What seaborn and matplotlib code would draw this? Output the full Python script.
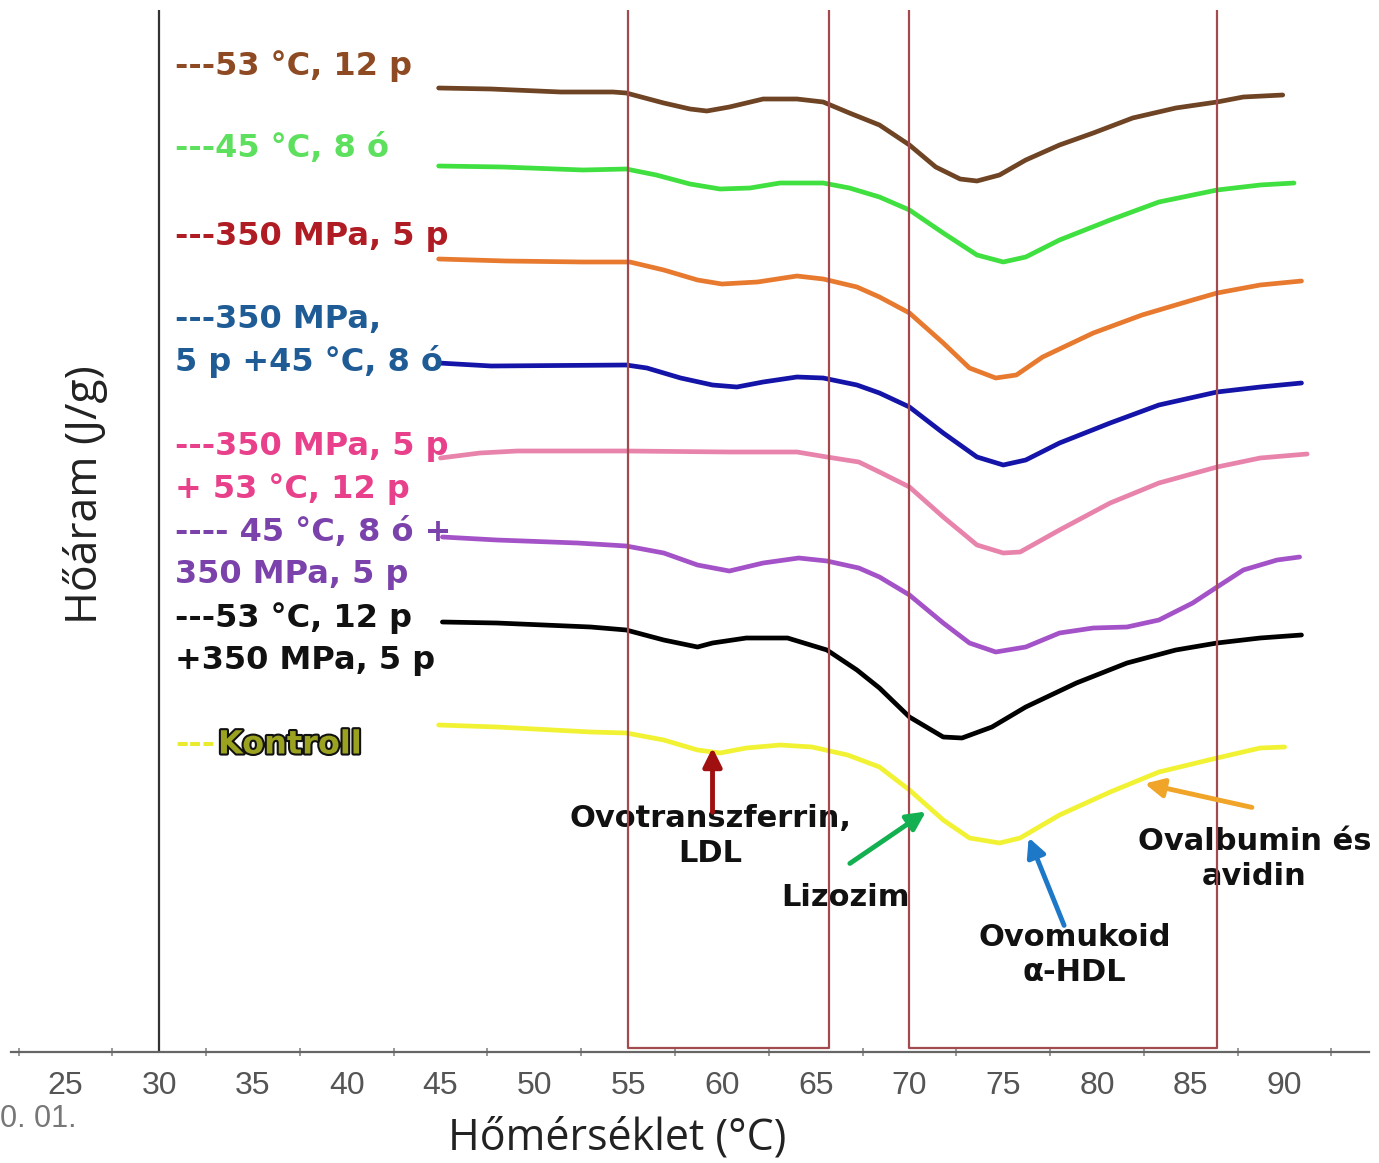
import matplotlib
matplotlib.use('Agg')
import matplotlib.pyplot as plt
import matplotlib.patheffects as pe
import seaborn as sns
import pandas as pd

# DSC curves (temperature in °C, heat flow in arbitrary units)
t_brown = [44.9, 47.7, 51.4, 54.2, 54.9, 56.9, 58.3, 59.2, 60.4, 62.2, 64.0, 65.4, 66.8, 68.4,
           70.0, 71.4, 72.7, 73.6, 74.8, 76.2, 78.0, 79.8, 81.9, 84.2, 86.4, 87.8, 89.9]
f_brown = [964, 963, 960, 960, 959, 949, 943, 941, 945, 953, 953, 950, 939, 927,
           907, 885, 873, 871, 877, 892, 907, 919, 934, 944, 950, 955, 957]

t_green = [44.9, 48.3, 52.6, 54.9, 56.5, 58.3, 59.9, 61.5, 63.1, 65.4, 66.8, 68.4,
           70.0, 71.8, 73.6, 75.0, 76.2, 78.0, 80.7, 83.3, 86.4, 88.7, 90.5]
f_green = [886, 885, 882, 883, 877, 868, 863, 864, 869, 869, 864, 855,
           842, 819, 797, 790, 795, 812, 832, 850, 862, 867, 869]

t_orange = [44.9, 48.5, 52.6, 55.1, 56.9, 58.7, 60.0, 61.9, 64.0, 65.4, 67.2, 68.4,
            70.0, 71.8, 73.2, 74.6, 75.7, 77.1, 79.8, 82.4, 85.1, 86.4, 88.7, 90.9]
f_orange = [793, 791, 790, 790, 782, 772, 768, 770, 776, 773, 765, 755,
            739, 709, 684, 674, 677, 695, 719, 737, 752, 759, 767, 771]

t_blue = [44.9, 47.7, 54.9, 56.0, 57.8, 59.5, 60.8, 62.2, 64.0, 65.4, 67.2, 68.4,
          70.0, 71.8, 73.6, 75.0, 76.2, 78.0, 80.7, 83.3, 86.4, 88.7, 90.9]
f_blue = [689, 686, 687, 684, 674, 667, 665, 670, 675, 674, 667, 659,
          645, 619, 595, 587, 592, 609, 629, 647, 660, 665, 669]

t_pink = [45.0, 47.1, 49.1, 54.9, 60.4, 64.0, 65.6, 67.3, 68.4, 70.0, 71.8, 73.6,
          75.0, 75.9, 78.0, 80.7, 83.3, 86.4, 88.7, 91.2]
f_pink = [594, 599, 601, 601, 600, 600, 595, 590, 580, 565, 535, 507,
          499, 500, 522, 549, 569, 585, 594, 598]

t_purple = [45.1, 48.0, 52.3, 54.9, 56.9, 58.7, 60.4, 62.2, 64.1, 65.6, 67.3, 68.4, 70.0,
            71.8, 73.2, 74.6, 76.2, 78.0, 79.8, 81.6, 83.3, 85.1, 86.4, 87.8, 89.6, 90.8]
f_purple = [515, 512, 509, 506, 499, 487, 481, 489, 494, 491, 484, 475, 457,
            429, 409, 400, 405, 419, 424, 425, 432, 449, 465, 482, 492, 495]

t_black = [45.1, 48.0, 53.0, 54.9, 56.9, 58.7, 59.5, 61.3, 63.5, 65.6, 67.2, 68.4,
           70.0, 71.8, 72.8, 74.4, 76.2, 78.9, 81.6, 84.2, 86.4, 88.7, 90.9]
f_black = [430, 429, 425, 422, 412, 405, 409, 414, 414, 402, 382, 364,
           335, 315, 314, 325, 345, 369, 389, 402, 409, 414, 417]

t_control = [44.9, 48.0, 53.0, 54.9, 56.9, 58.7, 59.9, 61.3, 63.1, 64.8, 66.7, 68.4,
             70.0, 71.8, 73.2, 74.8, 75.9, 78.0, 80.7, 83.3, 86.4, 88.7, 90.0]
f_control = [327, 325, 320, 319, 312, 302, 299, 304, 307, 305, 297, 285,
             262, 232, 214, 209, 214, 237, 260, 280, 294, 304, 305]

curves = [
    (t_brown, f_brown, '#6e4424'),
    (t_green, f_green, '#3fe03f'),
    (t_orange, f_orange, '#e87a30'),
    (t_blue, f_blue, '#1414a8'),
    (t_pink, f_pink, '#e884ac'),
    (t_purple, f_purple, '#a452c8'),
    (t_black, f_black, '#000000'),
    (t_control, f_control, '#f2f234'),
]

# legend-like labels on the left: (lines, colour)
labels = [
    (['---53 °C, 12 p'], '#8e4a22'),
    (['---45 °C, 8 ó'], '#5de05d'),
    (['---350 MPa, 5 p'], '#b01c24'),
    (['---350 MPa,', '5 p +45 °C, 8 ó'], '#1f5c96'),
    (['---350 MPa, 5 p', '+ 53 °C, 12 p'], '#e8408a'),
    (['---- 45 °C, 8 ó +', '350 MPa, 5 p'], '#7a42aa'),
    (['---53 °C, 12 p', '+350 MPa, 5 p'], '#111111'),
]
label_y = [66, 148, 236, 320, 447, 532, 618]

# peak annotations: text, text pos, arrow tail, arrow head, colour
peaks = ['Ovotranszferrin,\nLDL', 'Lizozim', 'Ovomukoid\nα-HDL', 'Ovalbumin és\navidin']
peak_text = [(59.4, 216), (66.6, 154), (78.8, 97), (88.4, 193)]
peak_tail = [(59.5, 237), (66.7, 187), (78.3, 124), (88.4, 244)]
peak_head = [(59.5, 307), (71.0, 242), (76.3, 217), (82.4, 269)]
peak_col = ['#a01010', '#12b050', '#1e78c8', '#f0a428']

# temperature windows (red boxes)
box1 = (55.0, 65.7)
box2 = (70.0, 86.4)

sns.set_theme(style="white")
plt.rcParams['font.family'] = ['DejaVu Sans']

W, H = 1379, 1163
fig = plt.figure(figsize=(W / 100, H / 100), dpi=100)
ax = fig.add_axes([11 / W, (H - 1052) / H, 1358 / W, 1042 / H])

for t, f, c in curves:
    df = pd.DataFrame({'T': t, 'F': f})
    sns.lineplot(data=df, x='T', y='F', color=c, lw=3.4, sort=False,
                 estimator=None, ax=ax, zorder=3,
                 solid_joinstyle='round', solid_capstyle='round')

for a, b in [box1, box2]:
    ax.plot([a, a, b, b], [1042, 4, 4, 1042], color='#a34a50', lw=1.6, zorder=4)
ax.axvline(30, color='#333333', lw=1.6, zorder=2)

ax.set_xlim(22.1, 94.5)
ax.set_ylim(0, 1042)
ax.set_xlabel('')
ax.set_ylabel('')
ax.set_yticks([])
ax.set_xticks(range(25, 95, 5))
ax.set_xticks([22.5 + 5 * i for i in range(15)], minor=True)
ax.tick_params(axis='x', which='major', length=12, width=1.3, color='#777777',
               labelcolor='#555555', pad=2, labelsize=23)
ax.tick_params(axis='x', which='minor', length=6, width=1.2, color='#888888',
               direction='inout', bottom=True)
for lab in ax.get_xticklabels():
    lab.set_family(['Liberation Sans Narrow', 'Liberation Sans', 'DejaVu Sans'])
for s in ['left', 'top', 'right']:
    ax.spines[s].set_visible(False)
ax.spines['bottom'].set_color('#666666')
ax.spines['bottom'].set_linewidth(1.6)

for txt, (tx, ty), tail, head, c in zip(peaks, peak_text, peak_tail, peak_head, peak_col):
    ax.text(tx, ty, txt, ha='center', va='center', fontsize=22, fontweight='bold',
            color='#111111', linespacing=1.3, zorder=2)
    ax.annotate('', xy=head, xytext=tail,
                arrowprops=dict(arrowstyle='-|>', color=c, lw=3.5, mutation_scale=28),
                zorder=5)

for (lines, c), y0 in zip(labels, label_y):
    for i, line in enumerate(lines):
        fig.text(175 / W, 1 - (y0 + 42 * i) / H, line, color=c, fontsize=23,
                 fontweight='bold', ha='left', va='center')

fig.text(175 / W, 1 - 745 / H, '---', color='#eaea30', fontsize=23,
         fontweight='bold', ha='left', va='center')
fig.text(218 / W, 1 - 745 / H, 'Kontroll', color='#9aa220', fontsize=23,
         fontweight='bold', ha='left', va='center',
         path_effects=[pe.withStroke(linewidth=3, foreground='#111111')])

fig.text(617 / W, 1 - 1138 / H, 'Hőmérséklet (°C)', fontsize=31, color='#222222',
         ha='center', va='center', family=['Open Sans', 'DejaVu Sans'])
fig.text(85 / W, 1 - 495 / H, 'Hőáram (J/g)', fontsize=32, color='#222222',
         ha='center', va='center', rotation=90, family=['Open Sans', 'DejaVu Sans'])
fig.text(0, 1 - 1119 / H, '0. 01.', fontsize=22, color='#777777',
         ha='left', va='center', family=['Liberation Sans Narrow', 'Liberation Sans', 'DejaVu Sans'])

fig.savefig('out.png', dpi=100)
plt.close(fig)
